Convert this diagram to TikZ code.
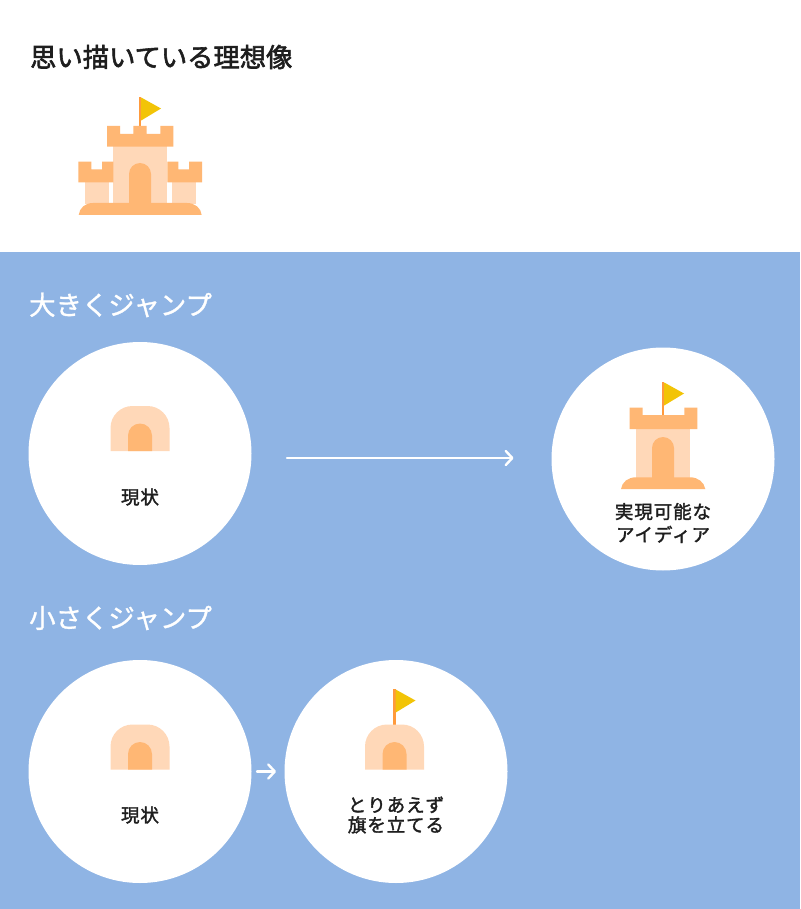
\documentclass[tikz,border=0pt]{standalone}
\usepackage{fontspec}
\usetikzlibrary{arrows.meta}
\newfontfamily\jpfont[FakeBold=1.2]{Noto Sans CJK JP}
\newfontfamily\jptitle[FakeBold=2.2]{Noto Sans CJK JP}
\newfontfamily\jpcaption[LetterSpace=5,FakeBold=1.8]{Noto Sans CJK JP}
\definecolor{panelblue}{HTML}{8FB4E4}
\definecolor{sandlight}{HTML}{FFD8B8}
\definecolor{sand}{HTML}{FFB774}
\definecolor{pole}{HTML}{FF9A3C}
\definecolor{flagyellow}{HTML}{F2C407}
\definecolor{inkblack}{HTML}{1E1E1E}
\begin{document}
\begin{tikzpicture}[x=1pt,y=-1pt]

\tikzstyle{spot}=[circle,fill=white,minimum size=223pt,inner sep=0pt,outer sep=0pt]
\tikzstyle{heading}=[anchor=west,inner sep=0pt,font=\jpfont\fontsize{26.4}{30}\selectfont]
\tikzstyle{caption}=[align=center,inner sep=0pt,text=inkblack,font=\jpcaption\fontsize{18.5}{23}\selectfont]
\tikzstyle{jump}=[draw=white,line width=2.4pt,line cap=round,-{Straight Barb[length=6.5pt,width=14pt,round]}]
\tikzstyle{wall}=[fill=sandlight]
\tikzstyle{brick}=[fill=sand]

\useasboundingbox (0,0) rectangle (800,909);
\fill[white] (0,0) rectangle (800,252);
\fill[panelblue] (0,252) rectangle (800,909);

\node[heading,text=inkblack,font=\jptitle\fontsize{26.3}{30}\selectfont] (ideal) at (30,57) {思い描いている理想像};
\node[heading,text=white] (bighead) at (29,305) {大きくジャンプ};
\node[heading,text=white] (smallhead) at (29,618) {小さくジャンプ};

\node[spot] (now1) at (140,453.5) {};
\node[spot] (goal1) at (663,459) {};
\node[spot] (now2) at (140,771.5) {};
\node[spot] (goal2) at (396,771.5) {};

\node[caption] (nowtext1) at (140,497) {現状};
\node[caption] (goaltext1) at (663,523) {実現可能な\\アイディア};
\node[caption] (nowtext2) at (140,815) {現状};
\node[caption,font=\jpcaption\fontsize{18.5}{20}\selectfont] (goaltext2) at (396,815) {とりあえず\\旗を立てる};

\draw[jump,shorten <=35.5pt,shorten >=38pt] ([yshift=-4.5pt]now1.east) -- ([yshift=1pt]goal1.west);
\draw[jump,shorten <=5.5pt,shorten >=8.5pt] (now2) -- (goal2);

% flags
\foreach \x/\y/\h in {140/97/29, 663/382/33, 394.5/689/36}
{
  \fill[pole] (\x-1.2,\y) rectangle (\x+1.2,\y+\h);
  \fill[flagyellow] (\x+1.2,\y+0.5) -- (\x+21,\y+11.5) -- (\x+1.2,\y+23.5) -- cycle;
}

% huts
\foreach \x/\y in {140/451, 140/769.5, 394.5/769.5}
{
  \path[wall] (\x-29.5,\y) [rounded corners=22pt] -- (\x-29.5,\y-45) -- (\x+29.5,\y-45) [sharp corners] -- (\x+29.5,\y) -- cycle;
  \path[brick] (\x-12,\y) [rounded corners=12pt] -- (\x-12,\y-27.5) -- (\x+12,\y-27.5) [sharp corners] -- (\x+12,\y) -- cycle;
}

% castle with side towers
\fill[wall] (85.3,182) rectangle (108.7,204);
\fill[wall] (171.7,182) rectangle (195.7,204);
\fill[wall] (113.3,146) rectangle (167.3,204);
\path[brick] (129,204) [rounded corners=11pt] -- (129,163) -- (151,163) [sharp corners] -- (151,204) -- cycle;
\fill[brick] (107,126) -- (120,126) -- (120,134) -- (133.3,134) -- (133.3,126) -- (146.7,126) -- (146.7,134) -- (160.3,134) -- (160.3,126) -- (173.3,126) -- (173.3,146.7) -- (107,146.7) -- cycle;
\fill[brick] (78.3,161.7) -- (91.3,161.7) -- (91.3,169.3) -- (102,169.3) -- (102,161.7) -- (113.3,161.7) -- (113.3,182.3) -- (78.3,182.3) -- cycle;
\fill[brick] (167.3,161.7) -- (178.3,161.7) -- (178.3,169.3) -- (189,169.3) -- (189,161.7) -- (202,161.7) -- (202,182.3) -- (167.3,182.3) -- cycle;
\fill[brick] (78.7,215) .. controls (79.5,208) and (85,203) .. (93,203) -- (187,203) .. controls (195,203) and (201,208) .. (201.7,215) -- cycle;

% single tower
\fill[wall] (636.3,429) rectangle (690.3,478);
\path[brick] (652,478) [rounded corners=11pt] -- (652,437) -- (674,437) [sharp corners] -- (674,478) -- cycle;
\fill[brick] (629.7,407.7) -- (642.7,407.7) -- (642.7,415) -- (684.3,415) -- (684.3,407.7) -- (697.3,407.7) -- (697.3,429) -- (629.7,429) -- cycle;
\fill[brick] (621,489) .. controls (622,482) and (628,477.3) .. (636,477.3) -- (690,477.3) .. controls (698,477.3) and (704,482) .. (705.3,489) -- cycle;

\end{tikzpicture}
\end{document}
